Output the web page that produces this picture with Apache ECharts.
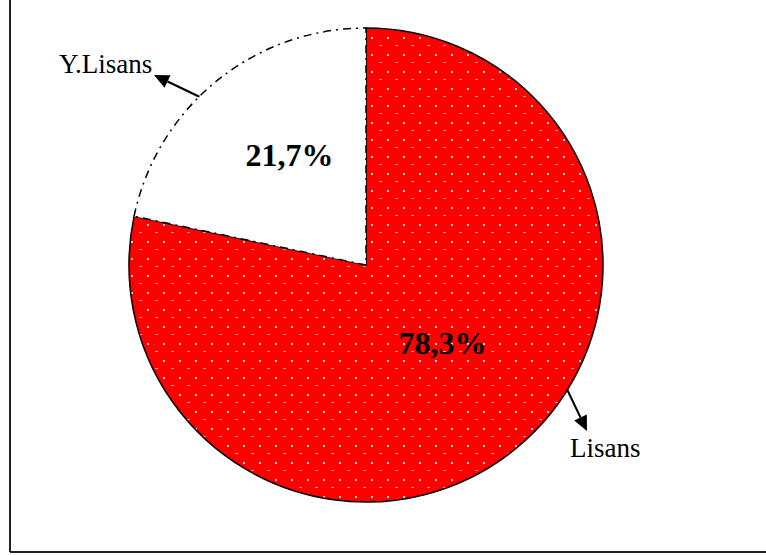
<!DOCTYPE html>
<html>
<head>
<meta charset="utf-8">
<script src="https://cdn.jsdelivr.net/npm/echarts@6/dist/echarts.min.js"></script>
<style>
html,body{margin:0;padding:0;background:#fff;}
#chart{width:766px;height:555px;}
</style>
</head>
<body>
<div id="chart"></div>
<script>
const categories = ['Lisans', 'Y.Lisans'];
const values = [78.3, 21.7];

function makeDots() {
  const c = document.createElement('canvas');
  c.width = 16; c.height = 17;
  const g = c.getContext('2d');
  g.fillStyle = '#ff0000';
  g.fillRect(0, 0, 16, 17);
  g.fillStyle = '#ffd0d0';
  g.fillRect(3, 3, 2, 2);
  g.fillStyle = '#ffa8a8';
  g.fillRect(11, 11, 3, 1);
  return c;
}

function arrow(x1, y1, x2, y2) {
  const dx = x2 - x1, dy = y2 - y1;
  const L = Math.sqrt(dx * dx + dy * dy);
  const ux = dx / L, uy = dy / L;
  const hl = 15, hw = 7;
  const bx = x2 - ux * hl, by = y2 - uy * hl;
  return [
    { type: 'line', shape: { x1: x1, y1: y1, x2: bx, y2: by }, style: { stroke: '#000', lineWidth: 2 } },
    { type: 'polygon', shape: { points: [[x2, y2], [bx - uy * hw, by + ux * hw], [bx + uy * hw, by - ux * hw]] }, style: { fill: '#000' } }
  ];
}

const chart = echarts.init(document.getElementById('chart'), null, { renderer: 'svg' });
const dots = makeDots();
const serif = '"Liberation Serif", "Times New Roman", serif';

chart.setOption({
  animation: false,
  backgroundColor: '#fff',
  series: [{
    type: 'pie',
    center: [366, 265],
    radius: 237,
    startAngle: 90,
    clockwise: true,
    avoidLabelOverlap: false,
    data: categories.map((c, i) => ({
      name: c,
      value: values[i],
      itemStyle: i === 0
        ? { color: { image: dots, repeat: 'repeat' }, borderColor: '#000', borderWidth: 1.5 }
        : { color: '#ffffff', borderColor: '#000', borderWidth: 1.5, borderType: [8, 5, 2, 5] }
    })),
    label: {
      position: 'inside',
      formatter: p => p.value.toFixed(1).replace('.', ',') + '%',
      fontFamily: serif,
      fontWeight: 'bold',
      fontSize: 32,
      color: '#000'
    },
    labelLayout: { dy: -16 },
    labelLine: { show: false },
    emphasis: { disabled: true }
  }],
  graphic: [
    { type: 'line', shape: { x1: 10, y1: 0, x2: 10, y2: 552 }, style: { stroke: '#222', lineWidth: 2 } },
    { type: 'line', shape: { x1: 10, y1: 552, x2: 766, y2: 552 }, style: { stroke: '#222', lineWidth: 2 } },
    { type: 'text', x: 59, y: 64, style: { text: categories[1], fontSize: 27, fontFamily: serif, fontWeight: 'normal', fill: '#000', align: 'left', verticalAlign: 'middle' } },
    { type: 'text', x: 570, y: 448, style: { text: categories[0], fontSize: 27, fontFamily: serif, fontWeight: 'normal', fill: '#000', align: 'left', verticalAlign: 'middle' } }
  ].concat(arrow(202, 98, 154, 75)).concat(arrow(564, 383, 587, 431))
});
</script>
</body>
</html>
